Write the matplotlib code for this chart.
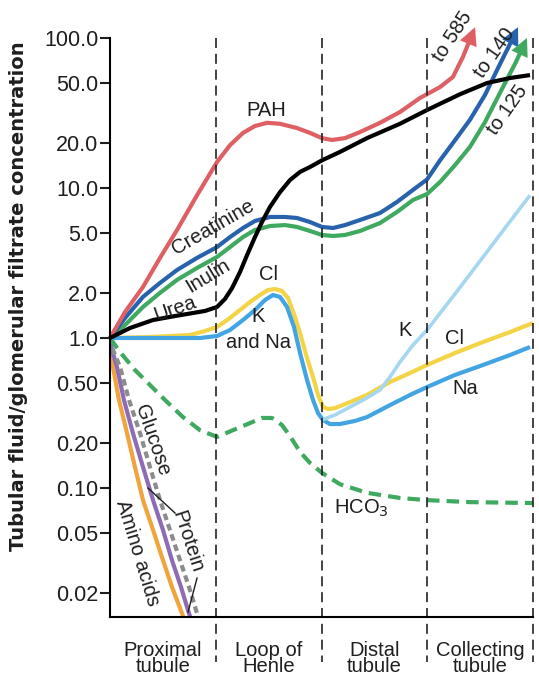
import numpy as np
import matplotlib
matplotlib.use("Agg")
import matplotlib.pyplot as plt
from matplotlib.ticker import FixedLocator, FixedFormatter
from matplotlib.transforms import blended_transform_factory

plt.rcParams['font.family'] = ['Liberation Sans', 'DejaVu Sans']

# segments: 0-1 proximal, 1-2 loop of Henle, 2-3 distal, 3-4 collecting
segments = ["Proximal\ntubule", "Loop of\nHenle", "Distal\ntubule", "Collecting\ntubule"]

yticks = [100, 50, 20, 10, 5, 2, 1, 0.5, 0.2, 0.1, 0.05, 0.02]
ytick_labels = ["100.0", "50.0", "20.0", "10.0", "5.0", "2.0", "1.0",
                "0.50", "0.20", "0.10", "0.05", "0.02"]

# curves (x = position along tubule, y = TF/P ratio)
pah_x = [0, 0.142, 0.312, 0.473, 0.634, 0.823, 1.012, 1.135, 1.258, 1.371, 1.485, 1.608,
         1.768, 1.891, 2.005, 2.099, 2.222, 2.364, 2.553, 2.742, 2.931, 3.121, 3.243, 3.338]
pah_y = [1.0, 1.49, 2.19, 3.42, 5.25, 8.95, 14.9, 19.3, 23.3, 25.9, 27.2, 26.8,
         25.1, 23.3, 21.5, 20.9, 21.5, 23.6, 27.2, 32.1, 39.8, 47.1, 55.0, 75.0]
pah_tip = (3.452, 118)

creat_x = [0, 0.142, 0.312, 0.473, 0.634, 0.823, 1.012, 1.135, 1.258, 1.371, 1.513, 1.655,
           1.768, 1.891, 2.005, 2.109, 2.222, 2.364, 2.553, 2.714, 2.865, 2.998, 3.121,
           3.262, 3.404, 3.546, 3.660, 3.764]
creat_y = [1.0, 1.36, 1.88, 2.33, 2.84, 3.42, 4.04, 4.71, 5.41, 6.03, 6.41, 6.41,
           6.31, 5.93, 5.50, 5.41, 5.66, 6.12, 6.81, 8.07, 9.71, 11.4, 15.3,
           20.8, 28.5, 41.7, 61.2, 85.9]
creat_tip = (3.858, 118)

inulin_x = [0, 0.142, 0.312, 0.473, 0.634, 0.823, 1.012, 1.135, 1.258, 1.371, 1.513, 1.655,
            1.768, 1.891, 2.005, 2.109, 2.222, 2.364, 2.553, 2.714, 2.865, 2.998, 3.121,
            3.262, 3.404, 3.546, 3.716, 3.839]
inulin_y = [1.0, 1.22, 1.61, 2.0, 2.44, 2.93, 3.47, 4.04, 4.71, 5.25, 5.58, 5.66,
            5.50, 5.17, 4.86, 4.79, 4.86, 5.17, 5.84, 6.92, 8.32, 9.12, 10.96,
            14.2, 18.8, 27.5, 47.1, 69.2]
inulin_tip = (3.943, 100)

urea_x = [0, 0.189, 0.407, 0.615, 0.785, 0.898, 1.012, 1.087, 1.154, 1.229, 1.296, 1.371,
          1.437, 1.513, 1.608, 1.702, 1.797, 1.891, 2.005, 2.175, 2.430, 2.742, 2.998,
          3.310, 3.565, 3.783, 3.972]
urea_y = [1.0, 1.166, 1.318, 1.401, 1.468, 1.514, 1.61, 1.82, 2.15, 2.75, 3.57, 4.71,
          5.93, 7.48, 9.39, 11.3, 12.8, 13.8, 15.3, 17.4, 21.5, 26.8, 33.1,
          42.2, 50.1, 54.1, 56.6]

cl_x = [0, 0.378, 0.757, 0.898, 1.012, 1.135, 1.229, 1.324, 1.418, 1.494, 1.560, 1.626,
        1.683, 1.740, 1.797, 1.863, 1.920, 1.967, 2.014, 2.061, 2.128, 2.270, 2.430,
        2.648, 2.837, 2.998, 3.262, 3.527, 3.783, 4.0]
cl_y = [1.0, 1.015, 1.047, 1.113, 1.184, 1.36, 1.537, 1.738, 1.935, 2.089, 2.12, 2.06,
        1.85, 1.445, 1.08, 0.736, 0.55, 0.417, 0.347, 0.336, 0.341, 0.374, 0.417,
        0.509, 0.584, 0.661, 0.794, 0.94, 1.096, 1.259]

na_x = [0, 0.851, 1.012, 1.135, 1.258, 1.371, 1.466, 1.541, 1.608, 1.674, 1.740, 1.797,
        1.863, 1.920, 1.967, 2.014, 2.080, 2.175, 2.317, 2.430, 2.648, 2.837, 2.998,
        3.262, 3.527, 3.783, 3.972]
na_y = [1.0, 1.0, 1.031, 1.131, 1.318, 1.537, 1.792, 1.935, 1.877, 1.61, 1.184, 0.794,
        0.525, 0.386, 0.316, 0.284, 0.267, 0.267, 0.28, 0.297, 0.357, 0.417, 0.471,
        0.567, 0.661, 0.77, 0.871]

k_x = [2.005, 2.128, 2.270, 2.411, 2.553, 2.648, 2.742, 2.865, 2.998, 3.262, 3.499, 3.735, 3.972]
k_y = [0.284, 0.307, 0.347, 0.392, 0.45, 0.55, 0.692, 0.898, 1.131, 1.965, 3.26, 5.41, 8.95]

hco3_x = [0, 0.095, 0.236, 0.378, 0.520, 0.690, 0.851, 1.012, 1.163, 1.324, 1.437, 1.532,
          1.626, 1.702, 1.797, 1.891, 2.005, 2.175, 2.430, 2.742, 2.998, 3.404, 4.0]
hco3_y = [1.0, 0.806, 0.612, 0.486, 0.386, 0.297, 0.243, 0.219, 0.243, 0.271, 0.293, 0.293,
          0.263, 0.222, 0.174, 0.147, 0.126, 0.106, 0.0929, 0.0858, 0.083, 0.0805, 0.0794]

glucose_x = [0, 0.028, 0.095, 0.180, 0.284, 0.378, 0.473, 0.567, 0.662, 0.747, 0.823, 0.851]
glucose_y = [1.0, 0.832, 0.641, 0.386, 0.232, 0.138, 0.083, 0.0525, 0.033, 0.0219, 0.0146, 0.0128]

protein_x = [0, 0.019, 0.066, 0.132, 0.217, 0.312, 0.407, 0.501, 0.586, 0.671, 0.747, 0.775]
protein_y = [1.0, 0.832, 0.641, 0.386, 0.232, 0.138, 0.083, 0.0525, 0.033, 0.0219, 0.0146, 0.0128]

amino_x = [0, 0.009, 0.028, 0.085, 0.161, 0.236, 0.312, 0.407, 0.501, 0.586, 0.681, 0.709]
amino_y = [1.0, 0.832, 0.641, 0.386, 0.232, 0.138, 0.083, 0.0525, 0.033, 0.0219, 0.0146, 0.0128]

RED = "#de6064"
DBLUE = "#2862ad"
GREEN = "#3ea95f"
YELLOW = "#f3d446"
NABLUE = "#42a4e2"
LBLUE = "#a5d7f1"
ORANGE = "#f0a43c"
PURPLE = "#8e6bb6"
GREY = "#8c8c8c"
TXT = "#1e1e1e"

fig = plt.figure(figsize=(5.39, 6.77), dpi=100)
ax = fig.add_axes([110 / 539, 1 - 617 / 677, 423 / 539, 579 / 677])
ax.set_yscale("log")
ax.set_xlim(0, 4)
ax.set_ylim(10 ** (-279 / 150), 100)

lw = 3.0
rj = dict(solid_joinstyle="round", solid_capstyle="butt")
ax.plot(amino_x, amino_y, color=ORANGE, lw=lw, **rj)
ax.plot(protein_x, protein_y, color=PURPLE, lw=lw, **rj)
ax.plot(glucose_x, glucose_y, color=GREY, lw=lw, dashes=(1.6, 1.0))
ax.plot(hco3_x, hco3_y, color=GREEN, lw=lw, dashes=(3.0, 1.7))
ax.plot(cl_x, cl_y, color=YELLOW, lw=lw, **rj)
ax.plot(na_x, na_y, color=NABLUE, lw=lw, **rj)
ax.plot(k_x, k_y, color=LBLUE, lw=2.6, **rj)
ax.plot(inulin_x, inulin_y, color=GREEN, lw=lw, clip_on=False, **rj)
ax.plot(creat_x, creat_y, color=DBLUE, lw=lw, clip_on=False, **rj)
ax.plot(pah_x, pah_y, color=RED, lw=lw, clip_on=False, **rj)
ax.plot(urea_x, urea_y, color="black", lw=lw, **rj)

for xs, ys, tip, c in [(pah_x, pah_y, pah_tip, RED),
                       (creat_x, creat_y, creat_tip, DBLUE),
                       (inulin_x, inulin_y, inulin_tip, GREEN)]:
    ax.annotate("", xy=tip, xytext=(xs[-1], ys[-1]),
                arrowprops=dict(arrowstyle="-|>,head_length=0.8,head_width=0.4",
                                color=c, lw=lw, shrinkA=0, shrinkB=0,
                                mutation_scale=10, joinstyle="miter"),
                annotation_clip=False)

# dashed segment borders
trans = blended_transform_factory(ax.transData, ax.transAxes)
for xb in [1, 2, 3, 4]:
    ax.plot([xb, xb], [1.0, -0.078], transform=trans, color="#222222",
            lw=1.2, dashes=(6, 3.5), clip_on=False)

for i, name in enumerate(segments):
    ax.text(i + 0.5, -0.072, name, transform=trans, ha="center", va="center",
            fontsize=14.5, color=TXT, linespacing=0.8)

ax.spines["top"].set_visible(False)
ax.spines["right"].set_visible(False)
ax.spines["left"].set_linewidth(1.5)
ax.spines["bottom"].set_linewidth(1.5)
ax.set_xticks([])
ax.yaxis.set_major_locator(FixedLocator(yticks))
ax.yaxis.set_major_formatter(FixedFormatter(ytick_labels))
ax.yaxis.set_minor_locator(FixedLocator([]))
ax.tick_params(axis="y", length=7.5, width=1.5, labelsize=15.5, pad=1, colors=TXT)

fig.text(19 / 539, 1 - 296 / 677, "Tubular fluid/glomerular filtrate concentration",
         rotation=90, ha="center", va="center", fontsize=14, fontweight="bold",
         color=TXT, family="DejaVu Sans")


def lab(x, y, s, rot=0, size=14.5):
    ax.text(x, y, s, rotation=rot, ha="center", va="center", fontsize=size, color=TXT)


lab(1.475, 10 ** (228 / 150), "PAH")
lab(0.97, 10 ** (111 / 150), "Creatinine", 30)
lab(0.93, 10 ** (62 / 150), "Inulin", 31)
lab(0.62, 10 ** (29 / 150), "Urea", 19)
lab(1.50, 10 ** (64 / 150), "Cl")
lab(1.40, 10 ** (21 / 150), "K")
lab(1.40, 10 ** (-4 / 150), "and Na")
lab(2.79, 10 ** (8 / 150), "K")
lab(3.26, 10 ** (0 / 150), "Cl")
lab(3.36, 10 ** (-50 / 150), "Na")
lab(2.38, 10 ** (-170 / 150), "HCO$_3$")
lab(0.40, 10 ** (-102 / 150), "Glucose", -71)
lab(0.73, 10 ** (-204 / 150), "Protein", -72)
lab(0.26, 10 ** (-215 / 150), "Amino acids", -73)
lab(3.24, 10 ** (301 / 150), "to 585", 57)
lab(3.64, 10 ** (285 / 150), "to 140", 55)
lab(3.76, 10 ** (228 / 150), "to 125", 55)

# leader lines for the protein label
ax.plot([0.359, 0.615], [0.1, 0.0681], color=TXT, lw=1.0)
ax.plot([0.823, 0.738], [0.0251, 0.0149], color=TXT, lw=1.0)

fig.savefig("out.png", dpi=100)
